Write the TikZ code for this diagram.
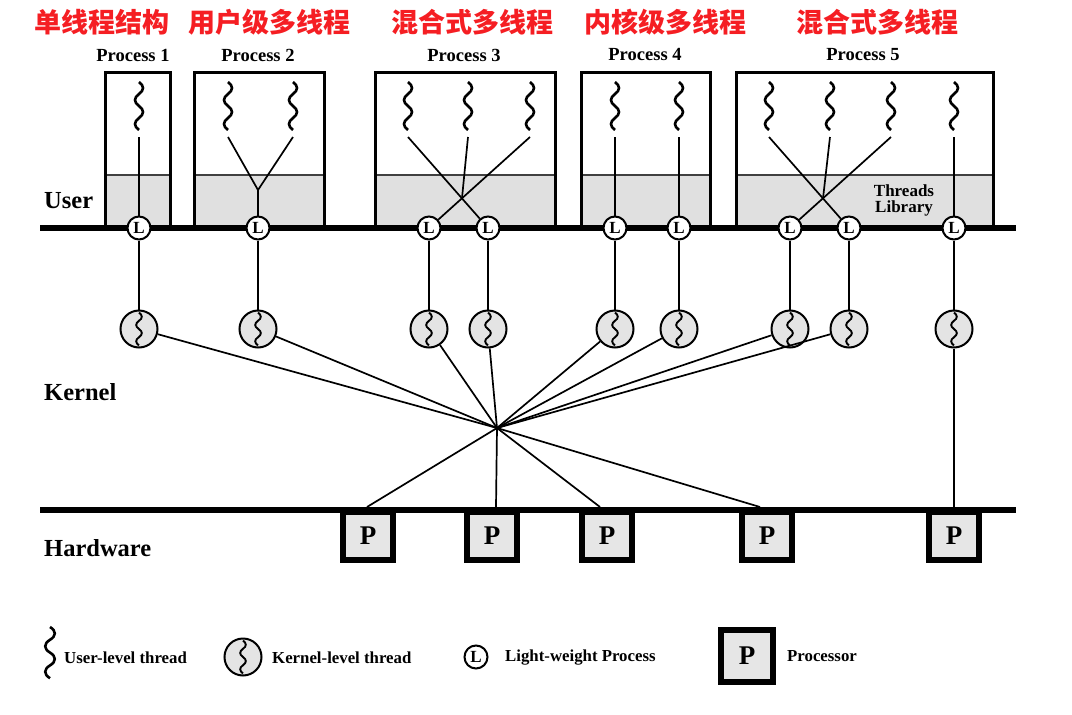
\documentclass[tikz,border=0pt]{standalone}
\usepackage{fontspec}
\setmainfont{Liberation Serif}
\newfontfamily\cjk{Noto Sans CJK SC}
\usetikzlibrary{calc}
\definecolor{titlered}{RGB}{245,30,35}
\definecolor{ugray}{RGB}{224,224,224}
\definecolor{kgray}{RGB}{228,228,228}
\definecolor{pgray}{RGB}{230,230,230}
\tikzset{
  title/.style={font=\cjk\bfseries\fontsize{27}{30}\selectfont, text=titlered, inner sep=0},
  proclabel/.style={font=\bfseries\fontsize{18.5}{20}\selectfont, inner sep=0},
  layerlabel/.style={font=\bfseries\fontsize{24.5}{26}\selectfont, anchor=west, inner sep=0},
  legtext/.style={font=\bfseries\fontsize{16.8}{18}\selectfont, anchor=west, inner sep=0},
  libtext/.style={font=\bfseries\fontsize{17}{19}\selectfont, align=center, inner sep=0},
  lwp/.style={circle, draw, line width=2pt, fill=white, inner sep=0, minimum size=23pt,
              font=\bfseries\fontsize{17}{17}\selectfont},
  kth/.style={circle, draw, line width=2pt, fill=kgray, inner sep=0, minimum size=37pt},
  cpu/.style={draw, line width=6pt, fill=pgray, inner sep=0, minimum width=50pt, minimum height=48pt,
              font=\bfseries\fontsize{27}{27}\selectfont},
  procbox/.style={draw, line width=3pt},
  conn/.style={line width=1.7pt},
  bus/.style={line width=6.5pt},
  wave/.pic={\draw[line width=2.6pt]
     (0,0) .. controls (1.33,0.3) and (1.33,0.7) .. (0,1)
           .. controls (-1.33,1.3) and (-1.33,1.7) .. (0,2)
           .. controls (1.33,2.3) and (1.33,2.7) .. (0,3)
           .. controls (-1.33,3.3) and (-1.33,3.7) .. (0,4);},
  kwave/.pic={\draw[line width=1.9pt]
     (0,0) .. controls (1.33,0.3) and (1.33,0.7) .. (0,1)
           .. controls (-1.33,1.3) and (-1.33,1.7) .. (0,2)
           .. controls (1.33,2.3) and (1.33,2.7) .. (0,3)
           .. controls (-1.33,3.3) and (-1.33,3.7) .. (0,4);}
}
\begin{document}
\begin{tikzpicture}[x=1pt,y=-1pt]
\useasboundingbox (0,0) rectangle (1072,715);
\fill[white] (0,0) rectangle (1072,715);

% titles
\node[title] (t1) at (102,22) {单线程结构};
\node[title] (t2) at (269,22) {用户级多线程};
\node[title] (t3) at (472,22) {混合式多线程};
\node[title] (t4) at (665,22) {内核级多线程};
\node[title] (t5) at (877,22) {混合式多线程};

% process labels
\node[proclabel] (pl1) at (133,55) {Process 1};
\node[proclabel] (pl2) at (258,55) {Process 2};
\node[proclabel] (pl3) at (464,55) {Process 3};
\node[proclabel] (pl4) at (645,55) {Process 4};
\node[proclabel] (pl5) at (863,55) {Process 5};

% process boxes
\foreach \a/\b in {105/170,194/324,375/555,581/710,736/993}{
  \fill[ugray] (\a,175) rectangle (\b,228);
  \draw[line width=1.2pt, black!75] (\a,175) -- (\b,175);
  \draw[procbox] (\a,228) -- (\a,72) -- (\b,72) -- (\b,228);
}
\node[libtext] (lib) at (904,200) {Threads\\[-3pt]Library};

% buses
\coordinate (ub0) at (40,228);
\coordinate (ub1) at (1016,228);
\coordinate (hb0) at (40,510);
\coordinate (hb1) at (1016,510);
\draw[bus] (ub0) -- (ub1);
\draw[bus] (hb0) -- (hb1);

% layer labels
\node[layerlabel] (luser) at (44,201) {User};
\node[layerlabel] (lkern) at (44,392) {Kernel};
\node[layerlabel] (lhw) at (44,548) {Hardware};

% user-level threads
\foreach \n/\x in {u1/139,u2a/228,u2b/293,u3a/408,u3b/468,u3c/530,u4a/615,u4b/679,u5a/769,u5b/830,u5c/891,u5d/954}{
  \pic[xscale=4,yscale=12] at (\x,82) {wave};
  \coordinate (\n) at (\x,137);
}

% light-weight processes
\foreach \n/\x in {L1/139,L2/258,L3a/429,L3b/488,L4a/615,L4b/679,L5a/790,L5b/849,L5c/954}{
  \node[lwp] (\n) at (\x,228) {L};
}

% kernel threads
\foreach \n/\x in {k1/139,k2/258,k3a/429,k3b/488,k4a/615,k4b/679,k5a/790,k5b/849,k5c/954}{
  \node[kth] (\n) at (\x,329) {};
  \pic[xscale=2.8,yscale=8.2] at (\x,312.6) {kwave};
}

% processors
\node[cpu] (c1) at (368,536) {P};
\node[cpu] (c2) at (492,536) {P};
\node[cpu] (c3) at (607,536) {P};
\node[cpu] (c4) at (767,536) {P};
\node[cpu] (c5) at (954,536) {P};

% user thread to LWP mappings
\draw[conn] (u1) -- (L1);
\coordinate (j2) at (258,190);
\draw[conn] (u2a) -- (j2) -- (u2b);
\draw[conn] (j2) -- (L2);
\draw[conn] (u3a) -- (L3b);
\draw[conn] (u3c) -- (L3a);
\coordinate (x3) at (intersection of u3a--L3b and u3c--L3a);
\draw[conn] (u3b) -- (x3);
\draw[conn] (u4a) -- (L4a);
\draw[conn] (u4b) -- (L4b);
\draw[conn] (u5a) -- (L5b);
\draw[conn] (u5c) -- (L5a);
\coordinate (x5) at (intersection of u5a--L5b and u5c--L5a);
\draw[conn] (u5b) -- (x5);
\draw[conn] (u5d) -- (L5c);

% LWP to kernel threads
\foreach \l/\k in {L1/k1,L2/k2,L3a/k3a,L3b/k3b,L4a/k4a,L4b/k4b,L5a/k5a,L5b/k5b,L5c/k5c}{
  \draw[conn] (\l) -- (\k);
}

% hub
\coordinate (hub) at (497,428);
\foreach \k in {k1,k2,k3a,k3b,k4a,k4b,k5a,k5b}{
  \draw[conn] (\k) -- (hub);
}
\coordinate (h1) at (367,507);
\coordinate (h2) at (496,507);
\coordinate (h3) at (600,507);
\coordinate (h4) at (760,507);
\foreach \h in {h1,h2,h3,h4}{
  \draw[conn] (hub) -- (\h);
}
\coordinate (h5) at (954,507);
\draw[conn] (k5c) -- (h5);

% legend
\pic[xscale=4.8,yscale=12.8] at (50,627) {wave};
\node[legtext] (lg1) at (64,658) {User-level thread};
\node[kth] (lgk) at (243,657) {};
\pic[xscale=2.8,yscale=8.2] at (243,640.6) {kwave};
\node[legtext] (lg2) at (272,658) {Kernel-level thread};
\node[lwp] (lgl) at (476,657) {L};
\node[legtext] (lg3) at (505,658) {Light-weight Process};
\node[cpu, minimum width=52pt, minimum height=52pt] (lgp) at (747,656) {P};
\node[legtext] (lg4) at (787,656) {Processor};
\end{tikzpicture}
\end{document}
